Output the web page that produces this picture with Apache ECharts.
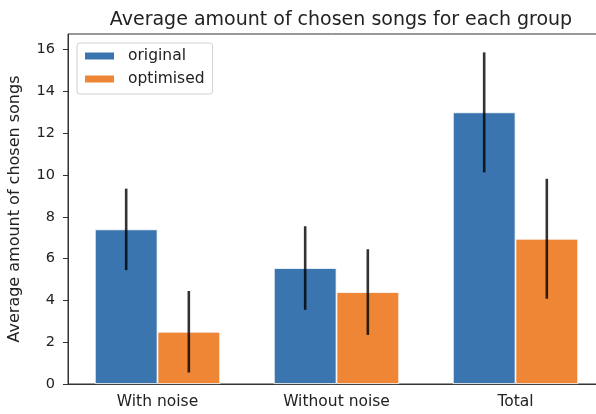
<!DOCTYPE html>
<html>
<head>
<meta charset="utf-8">
<script src="https://cdn.jsdelivr.net/npm/echarts@6/dist/echarts.min.js"></script>
<style>
  html, body { margin: 0; padding: 0; background: #fff; }
  #chart { width: 596px; height: 414px; }
</style>
</head>
<body>
<div id="chart"></div>
<script>
const categories = ['With noise', 'Without noise', 'Total'];
const original = [7.4, 5.55, 13.0];
const optimised = [2.5, 4.4, 6.95];
const originalErr = [1.95, 2.0, 2.87];
const optimisedErr = [1.95, 2.05, 2.87];
const yTicks = [0, 2, 4, 6, 8, 10, 12, 14, 16];

const FONT = 'DejaVu Sans';
const BLUE = '#3a75af';
const ORANGE = '#ef8636';

var chart = echarts.init(document.getElementById('chart'));

// error bar drawn at the centre of each bar (side -1 = left bar, +1 = right bar)
function errorSeries(vals, errs, side) {
    return {
        type: 'custom',
        z: 10,
        silent: true,
        renderItem: function (params, api) {
            var i = api.value(0);
            var lo = api.coord([i, api.value(1) - api.value(2)]);
            var hi = api.coord([i, api.value(1) + api.value(2)]);
            var dx = side * 0.175 * api.size([1, 0])[0];
            return {
                type: 'line',
                shape: { x1: lo[0] + dx, y1: lo[1], x2: hi[0] + dx, y2: hi[1] },
                style: { stroke: 'rgba(0,0,0,0.8)', lineWidth: 2.6 }
            };
        },
        data: vals.map(function (v, i) { return [i, v, errs[i]]; })
    };
}

chart.setOption({
    animation: false,
    title: {
        text: 'Average amount of chosen songs for each group',
        left: 336,
        textAlign: 'center',
        top: 6,
        textStyle: { fontFamily: FONT, fontSize: 19, fontWeight: 'normal', color: '#222' }
    },
    legend: {
        data: ['original', 'optimised'],
        orient: 'vertical',
        left: 77,
        top: 43,
        padding: [5, 8, 7, 6],
        itemWidth: 31,
        itemHeight: 9,
        itemGap: 7,
        icon: 'rect',
        borderColor: '#d0d0d0',
        borderWidth: 1,
        borderRadius: 3,
        textStyle: { fontFamily: FONT, fontSize: 15.5, color: '#222', padding: [0, 0, 0, 8] }
    },
    grid: {
        left: 68,
        top: 34,
        right: -9,
        bottom: 30,
        show: true,
        borderColor: '#333',
        borderWidth: 1,
        outerBoundsMode: 'none'
    },
    xAxis: {
        type: 'category',
        data: categories,
        axisLine: { lineStyle: { color: '#333', width: 1 } },
        axisTick: { alignWithLabel: true, length: 5, lineStyle: { color: '#333' } },
        axisLabel: { fontFamily: FONT, fontSize: 15.5, color: '#222', margin: 10 }
    },
    yAxis: {
        type: 'value',
        min: 0,
        max: 16.75,
        name: 'Average amount of chosen songs',
        nameLocation: 'middle',
        nameGap: 45,
        nameTextStyle: { fontFamily: FONT, fontSize: 16, color: '#222' },
        splitLine: { show: false },
        axisLine: { show: true, lineStyle: { color: '#333', width: 1 } },
        axisTick: { show: true, length: 5, customValues: yTicks, lineStyle: { color: '#333' } },
        axisLabel: { fontFamily: FONT, fontSize: 14.5, color: '#222', margin: 13, customValues: yTicks }
    },
    series: [{
        name: 'original',
        type: 'bar',
        data: original,
        barWidth: '35%',
        barGap: '0%',
        itemStyle: { color: BLUE, borderColor: '#fff', borderWidth: 0.8 }
    }, {
        name: 'optimised',
        type: 'bar',
        data: optimised,
        barWidth: '35%',
        barGap: '0%',
        itemStyle: { color: ORANGE, borderColor: '#fff', borderWidth: 0.8 }
    },
    errorSeries(original, originalErr, -1),
    errorSeries(optimised, optimisedErr, 1)
    ]
});
</script>
</body>
</html>
